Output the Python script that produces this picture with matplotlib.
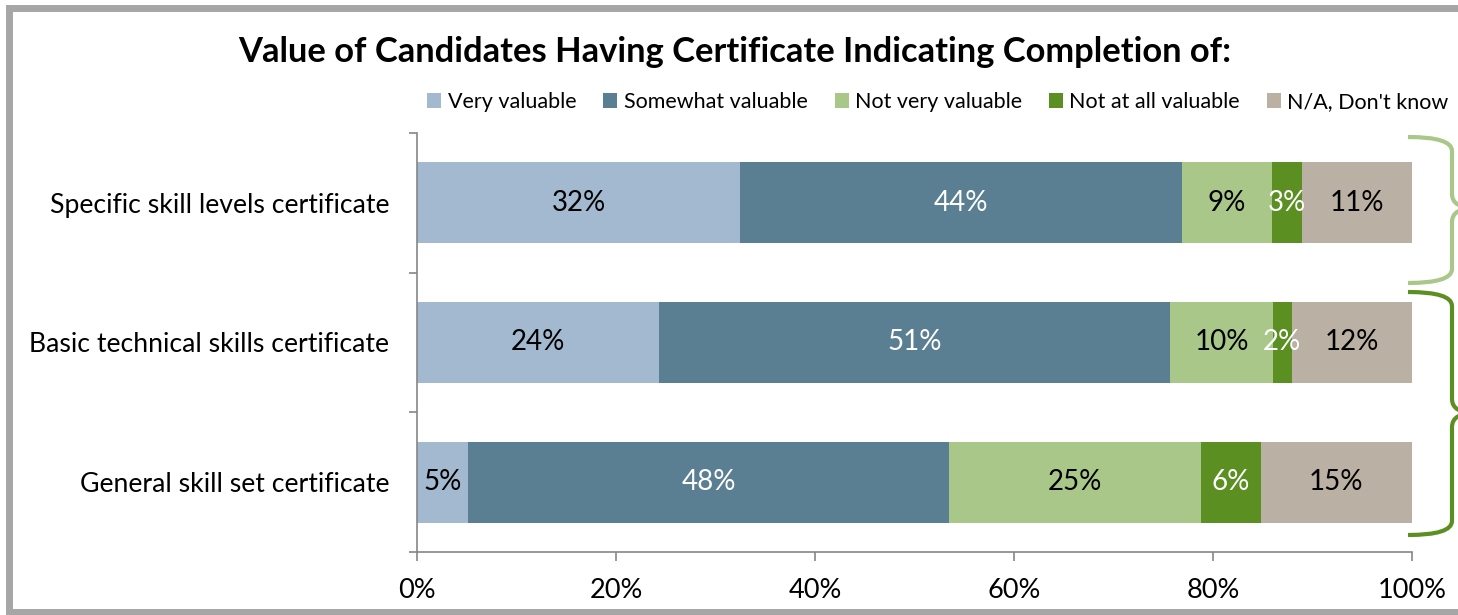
import numpy as np
import matplotlib.pyplot as plt
from matplotlib.patches import PathPatch, Patch
from matplotlib.path import Path
from matplotlib.lines import Line2D

plt.rcParams['font.family'] = ['Lato', 'DejaVu Sans']

# data
categories = ['Specific skill levels certificate',
              'Basic technical skills certificate',
              'General skill set certificate']
series = ['Very valuable', 'Somewhat valuable', 'Not very valuable',
          'Not at all valuable', "N/A, Don't know"]
very = [32.5, 24.3, 5.1]
somewhat = [44.4, 51.4, 48.4]
not_very = [9.0, 10.3, 25.3]
not_at_all = [3.0, 1.9, 6.0]
na = [11.1, 12.1, 15.2]
values = [very, somewhat, not_very, not_at_all, na]
colors = ['#A2B9CF', '#5B7F92', '#AAC78A', '#5B8F22', '#BBB0A4']
label_colors = ['black', 'white', 'black', 'white', 'black']

W, H = 1458, 615
fig = plt.figure(figsize=(W / 100, H / 100), dpi=100)
ax = fig.add_axes([417 / W, 1 - 552 / H, (1412 - 417) / W, (552 - 133) / H])

y = np.arange(len(categories))
left = np.zeros(len(categories))
for vals, col, lc in zip(values, colors, label_colors):
    vals = np.array(vals)
    ax.barh(y, vals, left=left, height=0.58, color=col)
    for yi, l, v in zip(y, left, vals):
        ax.text(l + v / 2, yi, f'{round(v):d}%', ha='center', va='center',
                fontsize=20, color=lc)
    left += vals

ax.set_xlim(0, 100)
ax.set_ylim(2.5, -0.5)
ax.set_xticks(np.arange(0, 101, 20))
ax.set_xticklabels([f'{t}%' for t in range(0, 101, 20)], fontsize=19.5)
ax.set_yticks(y)
ax.set_yticklabels(categories, fontsize=19.2)
ax.set_yticks([-0.5, 0.5, 1.5, 2.5], minor=True)
ax.tick_params(axis='y', which='major', length=0, pad=20)
ax.tick_params(axis='y', which='minor', length=6, color='#868686', width=1.2)
ax.tick_params(axis='x', length=6.5, color='#868686', width=1.2, pad=12)
for s in ['top', 'right']:
    ax.spines[s].set_visible(False)
for s in ['left', 'bottom']:
    ax.spines[s].set_color('#868686')
    ax.spines[s].set_linewidth(1.2)

fig.text(735 / W, 1 - 52 / H, 'Value of Candidates Having Certificate Indicating Completion of:',
         ha='center', va='center', fontsize=24.8, fontweight='bold')

handles = [Patch(facecolor=c, edgecolor='none') for c in colors]
fig.legend(handles, series, loc='center', bbox_to_anchor=(938 / W, 1 - 102 / H),
           ncol=5, frameon=False, fontsize=15.5, handlelength=0.65, handleheight=0.65,
           handletextpad=0.3, columnspacing=1.25)


def brace(yt, ym, yb, color, xl=1408, xv=1452, xt=1475, r=14):
    pts = [(xl, yt), (xv, yt), (xv, yt + r), (xv, ym - r), (xv, ym), (xt, ym),
           (xv, ym), (xv, ym + r), (xv, yb - r), (xv, yb), (xl, yb)]
    codes = [Path.MOVETO, Path.CURVE3, Path.CURVE3, Path.LINETO, Path.CURVE3, Path.CURVE3,
             Path.CURVE3, Path.CURVE3, Path.LINETO, Path.CURVE3, Path.CURVE3]
    pts = [(px / W, 1 - py / H) for px, py in pts]
    fig.patches.append(PathPatch(Path(pts, codes), transform=fig.transFigure,
                                 fill=False, edgecolor=color, lw=3))


brace(137, 208, 283, '#AAC78A')
brace(292, 413, 535, '#5B8F22')

# outer frame: left, top and bottom sides only (right side is off the picture)
fx = [1462 / W, 8.5 / W, 8.5 / W, 1462 / W]
fy = [1 - 8 / H, 1 - 8 / H, 1 - 612 / H, 1 - 612 / H]
fig.add_artist(Line2D(fx, fy, transform=fig.transFigure, color='#A6A6A6',
                      lw=5, solid_joinstyle='miter', solid_capstyle='butt'))

fig.savefig('out.png', dpi=100)
